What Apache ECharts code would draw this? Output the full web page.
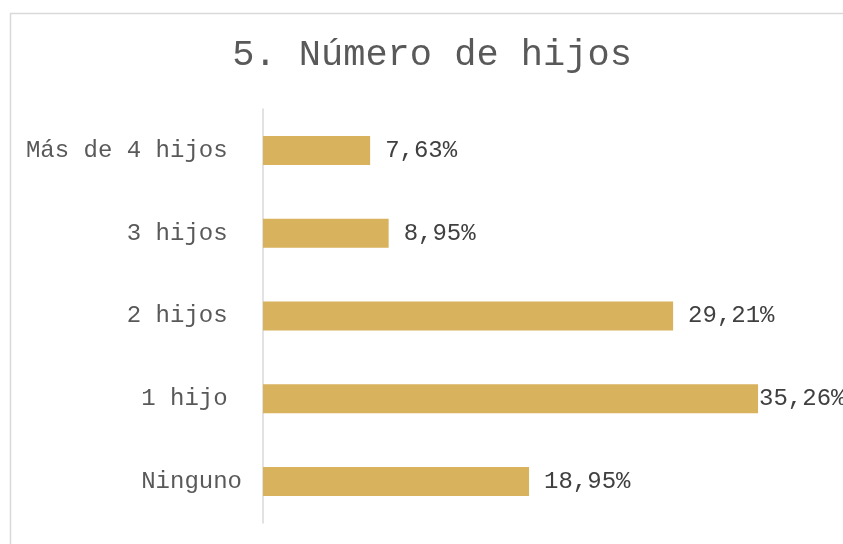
<!DOCTYPE html>
<html>
<head>
<meta charset="utf-8">
<script src="https://cdn.jsdelivr.net/npm/echarts@6/dist/echarts.min.js"></script>
<style>
html, body { margin: 0; padding: 0; background: #fff; }
#main { width: 843px; height: 544px; }
</style>
</head>
<body>
<div id="main"></div>
<script>
// categories from bottom to top (trailing space as in the source labels)
var categorias = ['Ninguno', '1 hijo ', '2 hijos ', '3 hijos ', 'Más de 4 hijos '];
var porcentajes = [18.95, 35.26, 29.21, 8.95, 7.63];
var titulo = '5. Número de hijos';

var fuente = '"Liberation Mono", "DejaVu Sans Mono", monospace';

var myChart = echarts.init(document.getElementById('main'));

var datos = porcentajes.map(function (v, i) {
    var item = { value: v };
    // the largest bar has its label pressed against the end
    if (v === Math.max.apply(null, porcentajes)) {
        item.label = { distance: 1 };
    }
    return item;
});

var option = {
    animation: false,
    backgroundColor: '#fff',
    title: {
        text: titulo,
        left: 427,
        textAlign: 'center',
        top: 32,
        textStyle: {
            fontFamily: fuente,
            fontSize: 37,
            fontWeight: 'normal',
            color: '#595959'
        }
    },
    graphic: [{
        type: 'rect',
        shape: { x: 10.5, y: 13.5, width: 900, height: 600 },
        style: { fill: 'none', stroke: '#d9d9d9', lineWidth: 1.5 },
        silent: true,
        z: -1
    }],
    grid: {
        left: 263,
        top: 109,
        bottom: 21,
        right: 18.4
    },
    xAxis: {
        type: 'value',
        min: 0,
        max: 40,
        show: false
    },
    yAxis: {
        type: 'category',
        data: categorias,
        axisLine: { lineStyle: { color: '#d9d9d9', width: 1.5 } },
        axisTick: { show: false },
        axisLabel: {
            margin: 21,
            fontFamily: fuente,
            fontSize: 24,
            color: '#595959'
        }
    },
    series: [{
        type: 'bar',
        data: datos,
        barWidth: '35%',
        itemStyle: { color: '#D9B25E' },
        label: {
            show: true,
            position: 'right',
            distance: 15,
            fontFamily: fuente,
            fontSize: 24,
            color: '#404040',
            formatter: function (p) {
                return p.value.toFixed(2).replace('.', ',') + '%';
            }
        }
    }]
};

myChart.setOption(option);
</script>
</body>
</html>
